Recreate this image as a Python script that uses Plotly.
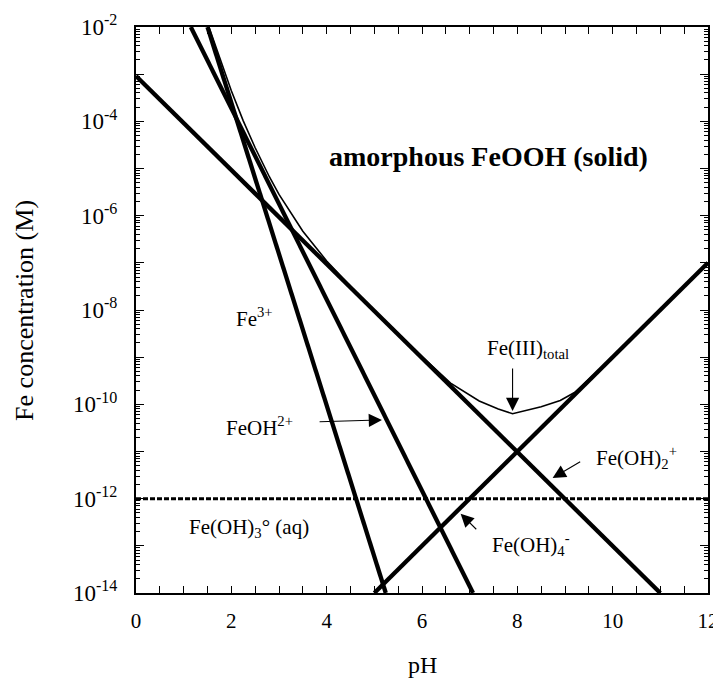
import plotly.graph_objects as go

# ---------------- data ----------------
# species lines: pH end points and log10 concentration end points
ph_fe3 = [1.50, 5.24]
logc_fe3 = [-2.0, -14.0]

ph_feoh = [1.15, 7.07]
logc_feoh = [-2.0, -14.0]

ph_feoh2 = [0.0, 11.0]
logc_feoh2 = [-3.04, -14.0]

ph_feoh4 = [5.0, 12.0]
logc_feoh4 = [-14.0, -7.0]

ph_feoh3 = [0.0, 12.0]
logc_feoh3 = [-12.0, -12.0]

# Fe(III) total curve (thin line)
ph_total = [1.53, 1.8, 2.0, 2.25, 2.5, 2.8, 3.0, 3.5, 4.0, 4.5, 5.0, 6.0,
            6.6, 7.2, 7.6, 7.9, 8.5, 8.9, 9.2, 10.0, 11.0, 12.0]
logc_total = [-2.0, -2.8, -3.35, -3.99, -4.56, -5.18, -5.55, -6.33, -6.96,
              -7.5, -8.01, -8.99, -9.55, -9.93, -10.1, -10.2, -10.05, -9.92,
              -9.75, -9.0, -8.0, -7.0]

x_tick_vals = [0, 2, 4, 6, 8, 10, 12]
x_tick_text = ["0", "2", "4", "6", "8", "10", "12"]
y_label_exponents = [-14, -12, -10, -8, -6, -4, -2]
y_odd_exponents = [-13, -11, -9, -7, -5, -3]


def to_conc(logs):
    return [10 ** v for v in logs]


FONT = "Liberation Serif, Times New Roman, serif"
BLACK = "#000000"

fig = go.Figure()

thick = dict(color=BLACK, width=4.3)
fig.add_trace(go.Scatter(x=ph_fe3, y=to_conc(logc_fe3), mode="lines", line=thick, name="Fe3+"))
fig.add_trace(go.Scatter(x=ph_feoh, y=to_conc(logc_feoh), mode="lines", line=thick, name="FeOH2+"))
fig.add_trace(go.Scatter(x=ph_feoh2, y=to_conc(logc_feoh2), mode="lines", line=thick, name="Fe(OH)2+"))
fig.add_trace(go.Scatter(x=ph_feoh4, y=to_conc(logc_feoh4), mode="lines", line=thick, name="Fe(OH)4-"))
fig.add_trace(go.Scatter(x=ph_feoh3, y=to_conc(logc_feoh3), mode="lines", yaxis="y2",
                         line=dict(color=BLACK, width=3, dash="5px,2px"), name="Fe(OH)3 (aq)"))
fig.add_trace(go.Scatter(x=ph_total, y=to_conc(logc_total), mode="lines",
                         line=dict(color=BLACK, width=1.6), name="Fe(III) total"))

# tick positions
all_exps = sorted(y_label_exponents + y_odd_exponents)
y_tick_vals = [10.0 ** e for e in y_label_exponents]
y_tick_text = ["10<sup>%d</sup>" % e for e in y_label_exponents]
y_odd_vals = [10.0 ** e for e in y_odd_exponents]
y_minor_vals = [k * 10.0 ** e for e in all_exps[:-1] for k in range(2, 10)]

fig.update_xaxes(
    range=[0, 12], tickmode="array", tickvals=x_tick_vals, ticktext=x_tick_text,
    ticks="inside", ticklen=7, tickwidth=1.3, tickcolor=BLACK,
    minor=dict(dtick=0.5, tick0=0, ticks="inside", ticklen=5,
               tickwidth=1, tickcolor=BLACK, showgrid=False),
    showline=True, linecolor=BLACK, linewidth=2, mirror="allticks",
    showgrid=False, zeroline=False, automargin=False,
    tickfont=dict(family=FONT, size=21, color=BLACK),
    ticklabelstandoff=8,
)
fig.update_yaxes(
    type="log", range=[-14, -2], tickmode="array", tickvals=y_tick_vals, ticktext=y_tick_text,
    ticks="inside", ticklen=8, tickwidth=1.3, tickcolor=BLACK,
    minor=dict(tickmode="array", tickvals=y_minor_vals, ticks="inside", ticklen=4,
               tickwidth=1, tickcolor=BLACK, showgrid=False),
    showline=True, linecolor=BLACK, linewidth=2, mirror="allticks",
    showgrid=False, zeroline=False, automargin=False,
    tickfont=dict(family=FONT, size=23, color=BLACK),
    ticklabelstandoff=12,
)
fig.update_layout(
    yaxis2=dict(
        type="log", range=[-14, -2], overlaying="y", side="left", anchor="x",
        tickmode="array", tickvals=y_odd_vals, showticklabels=False,
        ticks="inside", ticklen=8, tickwidth=1.3, tickcolor=BLACK,
        showline=False, mirror="allticks", showgrid=False, zeroline=False, automargin=False,
    )
)

lab_font = dict(family=FONT, size=21, color=BLACK)
annotations = [
    dict(x=-0.196, y=0.5, xref="paper", yref="paper", text="Fe concentration (M)",
         textangle=-90, showarrow=False, xanchor="center", yanchor="middle",
         font=dict(family=FONT, size=26, color=BLACK)),
    dict(x=0.5, y=-0.127, xref="paper", yref="paper", text="pH",
         showarrow=False, xanchor="center", yanchor="middle",
         font=dict(family=FONT, size=24, color=BLACK)),
    dict(x=7.4, y=-4.75, text="<b>amorphous FeOOH (solid)</b>", showarrow=False,
         font=dict(family=FONT, size=28, color=BLACK)),
    dict(x=2.49, y=-8.15, text="Fe<sup>3+</sup>", showarrow=False, font=lab_font),
    dict(x=2.6, y=-10.48, text="FeOH<sup>2+</sup>", showarrow=False, font=lab_font),
    dict(x=8.22, y=-8.83, text="Fe(III)<sub>total</sub>", showarrow=False, font=lab_font),
    dict(x=10.5, y=-11.13, text="Fe(OH)<sub>2</sub><sup>+</sup>", showarrow=False, font=lab_font),
    dict(x=8.28, y=-12.97, text="Fe(OH)<sub>4</sub><sup>-</sup>", showarrow=False, font=lab_font),
    dict(x=2.37, y=-12.63, text="Fe(OH)<sub>3</sub>° (aq)", showarrow=False, font=lab_font),
]
arrows = [
    ((3.82, -10.37), (5.16, -10.33)),
    ((7.9, -9.21), (7.9, -10.14)),
    ((9.35, -11.2), (8.74, -11.56)),
    ((7.17, -12.68), (6.81, -12.32)),
]
for (tx, ty), (hx, hy) in arrows:
    annotations.append(dict(x=hx, y=hy, ax=tx, ay=ty, xref="x", yref="y", axref="x", ayref="y",
                            text="", showarrow=True, arrowhead=2, arrowsize=2.4,
                            arrowwidth=1.1, arrowcolor=BLACK))

# the page adds an 8 px body margin, so the figure is sized to fit it
fig.update_layout(
    width=713, height=673,
    margin=dict(l=128, r=13, t=19, b=88),
    paper_bgcolor="white", plot_bgcolor="white",
    showlegend=False,
    annotations=annotations,
    font=dict(family=FONT, color=BLACK),
)

fig.write_html("out.html")
